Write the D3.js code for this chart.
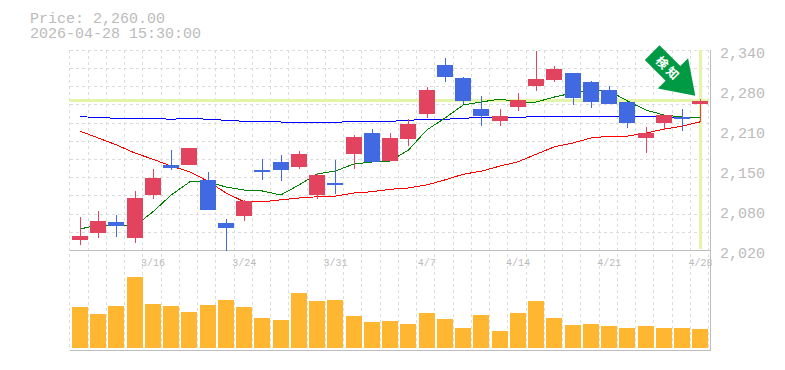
<!DOCTYPE html>
<html><head><meta charset="utf-8">
<script src="https://cdn.jsdelivr.net/npm/d3@7/dist/d3.min.js"></script>
<style>html,body{margin:0;padding:0;background:#fff}svg{display:block}text{font-family:"Liberation Mono",monospace}</style>
</head><body><div id="c"></div>
<script>
const dates=["3/10","3/11","3/12","3/13","3/16","3/17","3/18","3/19","3/23","3/24","3/25","3/26","3/27","3/30","3/31","4/1","4/2","4/3","4/6","4/7","4/8","4/9","4/10","4/13","4/14","4/15","4/16","4/17","4/20","4/21","4/22","4/23","4/24","4/27","4/28"];
const open=[2037,2048,2066,2040,2109,2157,2157,2133,2064,2075,2149,2162,2154,2109,2128,2174,2208,2163,2198,2238,2317,2296,2246,2227,2250,2283,2293,2304,2290,2277,2258,2200,2224,2234,2254];
const close=[2043,2067,2059,2104,2136,2152,2184,2085,2056,2099,2146,2149,2174,2141,2125,2202,2162,2200,2222,2277,2298,2259,2235,2235,2261,2294,2310,2264,2258,2254,2224,2208,2237,2230,2260];
const high=[2073,2083,2077,2115,2150,2181,2184,2146,2070,2101,2166,2173,2179,2144,2165,2205,2214,2208,2230,2282,2328,2298,2267,2246,2272,2339,2315,2304,2291,2283,2258,2218,2237,2246,2262];
const low=[2029,2040,2042,2032,2102,2149,2157,2085,2020,2067,2133,2131,2150,2102,2110,2150,2162,2163,2187,2232,2290,2254,2219,2219,2243,2275,2290,2253,2248,2254,2216,2176,2213,2211,2226];
const maShort=[2054.4,2060.8,2059.7,2059.2,2082,2108.8,2129.6,2130,2121.6,2116.8,2115.2,2108.8,2124.8,2142.4,2147.2,2158.4,2161.6,2163.2,2180.8,2212.8,2232,2252.8,2257.6,2262.4,2257.6,2257.6,2265.6,2272,2276.8,2275.2,2259.2,2244.8,2236.8,2233.6,2233.6];
const maMid=[2211,2200,2189,2176,2166,2155,2146,2131,2112,2098,2098,2101,2104,2106,2107,2112,2114,2118,2120,2125,2133,2142,2147,2155,2162,2174,2186,2192,2200,2203,2203,2208,2214,2219,2226];
const maLong=[2234,2233,2231.5,2231.5,2231.5,2230,2231.5,2230,2228.3,2226.7,2226.7,2225.6,2225,2225,2225,2226.7,2226.7,2226.7,2228.3,2230,2230,2231.5,2233,2233,2233,2234.4,2234.4,2234.4,2234.4,2234.4,2234.4,2234.4,2233.6,2233.6,2233];
const volume=[41,34,42,71,44,42,36,43,48,41,30,28,55,47,48,32,26,27,24,35,29,20,33,17,35,47,30,23,24,22,20,22,20,20,19];
const priceTicks=[2340,2276,2212,2148,2084,2020];
const dateLabels=["3/16","3/24","3/31","4/7","4/14","4/21","4/28"];
const headline=["Price: 2,260.00","2026-04-28 15:30:00"];
const currentPrice=2260, currentDate="4/28", badgeText="検知";

const svg=d3.select("#c").append("svg").attr("width",785).attr("height",370);
const x=d3.scaleBand().domain(dates).range([70.875,709.625]);
const y=d3.scaleLinear().domain([2020,2340]).range([250.5,50.5]);
const v=d3.scaleLinear().domain([0,71]).range([348,277]);
const cx=d=>x(d)+x.bandwidth()/2;
const px=d=>Math.ceil(cx(d)-0.5);
const fmt=d3.format(",");
const up="#e2445f",down="#4169e1",grid="#dcdcdc",axis="#bdbdbd",lab="#bbb",hl="#e4f4a9";

// grid
const g=svg.append("g").attr("stroke",grid).attr("stroke-dasharray","3 3").attr("shape-rendering","crispEdges");
d3.range(0,36).forEach(i=>{
  const p=Math.floor(69.9+i*x.bandwidth())+.5;
  g.append("line").attr("x1",p).attr("x2",p).attr("y1",50).attr("y2",350);
});
d3.range(0,11).forEach(i=>{
  const p=Math.round(49.95+i*200/11)+.5;
  g.append("line").attr("x1",70).attr("x2",710).attr("y1",p).attr("y2",p);
});
// current highlights
svg.append("line").attr("x1",70).attr("x2",709).attr("y1",y(currentPrice)).attr("y2",y(currentPrice)).attr("stroke",hl).attr("stroke-width",3).attr("shape-rendering","crispEdges");
svg.append("line").attr("x1",cx(currentDate)).attr("x2",cx(currentDate)).attr("y1",50).attr("y2",249).attr("stroke",hl).attr("stroke-width",3).attr("shape-rendering","crispEdges");
// frame
const frame=svg.append("g").attr("stroke",axis).attr("shape-rendering","crispEdges");
[250.5,350.5].forEach(py=>frame.append("line").attr("x1",70).attr("x2",711).attr("y1",py).attr("y2",py));
frame.append("line").attr("x1",710.5).attr("x2",710.5).attr("y1",50).attr("y2",351);
// volume
svg.append("g").attr("fill","#ffb732").attr("shape-rendering","crispEdges").selectAll("rect").data(dates).join("rect")
 .attr("x",d=>px(d)-8).attr("width",16)
 .attr("y",(d,i)=>v(volume[i])).attr("height",(d,i)=>v(0)-v(volume[i]));
// moving averages
const line=arr=>d3.line().x((d,i)=>cx(dates[i])).y(d=>y(d))(arr);
[[maMid,"#ff0000"],[maLong,"#0000ff"],[maShort,"#008000"]].forEach(([a,c])=>{
  svg.append("path").attr("d",line(a)).attr("fill","none").attr("stroke",c).attr("stroke-width",1).attr("shape-rendering","crispEdges");
});
// candles
const idx=dates.map((d,i)=>i);
const col=i=>close[i]>=open[i]?up:down;
const cg=svg.append("g").attr("shape-rendering","crispEdges");
cg.selectAll(".w").data(idx).join("line").attr("class","w")
 .attr("x1",i=>px(dates[i])+.5).attr("x2",i=>px(dates[i])+.5)
 .attr("y1",i=>y(high[i])).attr("y2",i=>y(low[i])).attr("stroke",col).attr("stroke-width",1);
cg.selectAll(".b").data(idx).join("rect").attr("class","b")
 .attr("x",i=>px(dates[i])-8).attr("width",16)
 .attr("y",i=>y(Math.max(open[i],close[i]))).attr("height",i=>Math.max(1,Math.abs(y(open[i])-y(close[i]))))
 .attr("fill",col);
// axis labels
svg.append("g").selectAll("text").data(priceTicks).join("text")
 .attr("x",720).attr("y",d=>y(d)+7.5).attr("font-size",15).attr("fill",lab)
 .text(d=>fmt(Math.round(d/10)*10));
svg.append("g").selectAll("text").data(dateLabels).join("text")
 .attr("x",d=>cx(d)).attr("y",266).attr("text-anchor","middle").attr("font-size",10).attr("fill",lab).text(d=>d);
svg.append("g").selectAll("text").data(headline).join("text")
 .attr("x",30).attr("y",(d,i)=>23+i*15).attr("font-size",15).attr("fill",lab).text(d=>d);
// badge
const tipX=cx(currentDate)-5.2, tipY=y(currentPrice)-4.8;
const badge=svg.append("g").attr("transform",`translate(${tipX},${tipY}) rotate(45)`);
const arrow=d3.path();
arrow.moveTo(0,0);arrow.lineTo(-31.6,-21.4);arrow.lineTo(-31.6,-10.4);arrow.lineTo(-61,-10.4);arrow.lineTo(-61,10.4);arrow.lineTo(-31.6,10.4);arrow.lineTo(-31.6,21.4);arrow.closePath();
badge.append("path").attr("d",arrow.toString()).attr("fill","#009944");
badge.append("text").attr("x",-38).attr("y",4.5).attr("text-anchor","middle").attr("font-size",12).attr("font-weight",700).attr("letter-spacing",3)
 .style("font-family","'Noto Sans CJK JP'").attr("fill","#fff").text(badgeText);
</script></body></html>
